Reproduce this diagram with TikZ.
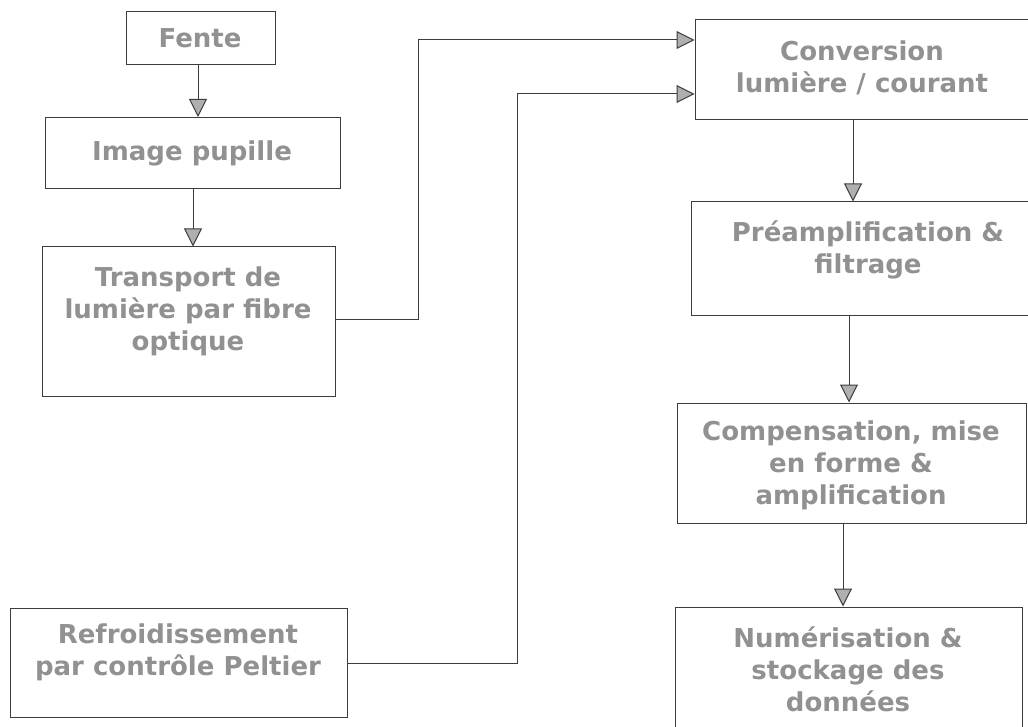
\documentclass[tikz,border=0pt]{standalone}
\usepackage{fontspec}
\setmainfont{DejaVu Sans}
\usetikzlibrary{arrows.meta,calc}
\definecolor{txtgray}{RGB}{145,145,145}
\definecolor{linegray}{RGB}{60,60,60}
\definecolor{headgray}{RGB}{175,175,175}
\begin{document}
\begin{tikzpicture}[x=1pt,y=-1pt,
  box/.style={draw=linegray, line width=1pt, inner sep=0pt},
  lbl/.style={text=txtgray, font=\fontsize{26}{32}\selectfont\bfseries, align=center, inner sep=0pt},
  arr/.style={draw=linegray, line width=1pt, -{Triangle[length=18pt,width=18pt,fill=headgray]}}]
\useasboundingbox (0,0) rectangle (1028,727);
\clip (0,0) rectangle (1028,727);
% boxes
\node[box, minimum width=149pt, minimum height=53pt] (fente) at (200.5,38.5) {};
\node[box, minimum width=295pt, minimum height=71pt] (img) at (192.5,153) {};
\node[box, minimum width=293pt, minimum height=149pt] (trans) at (188.5,321.5) {};
\node[box, minimum width=337pt, minimum height=109pt] (refr) at (178.5,662.5) {};
\node[box, minimum width=336pt, minimum height=100pt] (conv) at (863,70) {};
\node[box, minimum width=354pt, minimum height=114pt] (pre) at (868,259) {};
\node[box, minimum width=349pt, minimum height=120pt] (comp) at (851.5,463) {};
\node[box, minimum width=347pt, minimum height=153pt] (num) at (848.5,683.5) {};
% labels
\node[lbl] (fenteT) at (200,38) {Fente};
\node[lbl] (imgT) at (192,153) {Image pupille};
\node[lbl] (transT) at (188,311) {Transport de\\lumière par fibre\\optique};
\node[lbl] (refrT) at (178,652) {Refroidissement\\par contrôle Peltier};
\node[lbl] (convT) at (862,68) {Conversion\\lumière / courant};
\node[lbl] (preT) at (868,250) {Préamplification \&\\filtrage};
\node[lbl] (compT) at (851,465) {Compensation, mise\\en forme \&\\amplification};
\node[lbl] (numT) at (848,669) {Numérisation \&\\stockage des\\données};
% helper coordinates
\coordinate (v4) at (198,0);
\coordinate (v5) at (193,0);
\coordinate (v1) at (853,0);
\coordinate (v2) at (849,0);
\coordinate (v3) at (843,0);
\coordinate (k1) at (418,320);
\coordinate (k2) at (418,40);
\coordinate (k3) at (517,663);
\coordinate (k4) at (517,94);
% connectors
\draw[arr] (fente.south -| v4) -- (img.north -| v4);
\draw[arr] (img.south -| v5) -- (trans.north -| v5);
\draw[arr] (trans.east |- k1) -- (k1) -- (k2) -- (conv.west |- k2);
\draw[arr] (refr.east |- k3) -- (k3) -- (k4) -- (conv.west |- k4);
\draw[arr] (conv.south -| v1) -- (pre.north -| v1);
\draw[arr] (pre.south -| v2) -- (comp.north -| v2);
\draw[arr] (comp.south -| v3) -- (num.north -| v3);
\end{tikzpicture}
\end{document}
